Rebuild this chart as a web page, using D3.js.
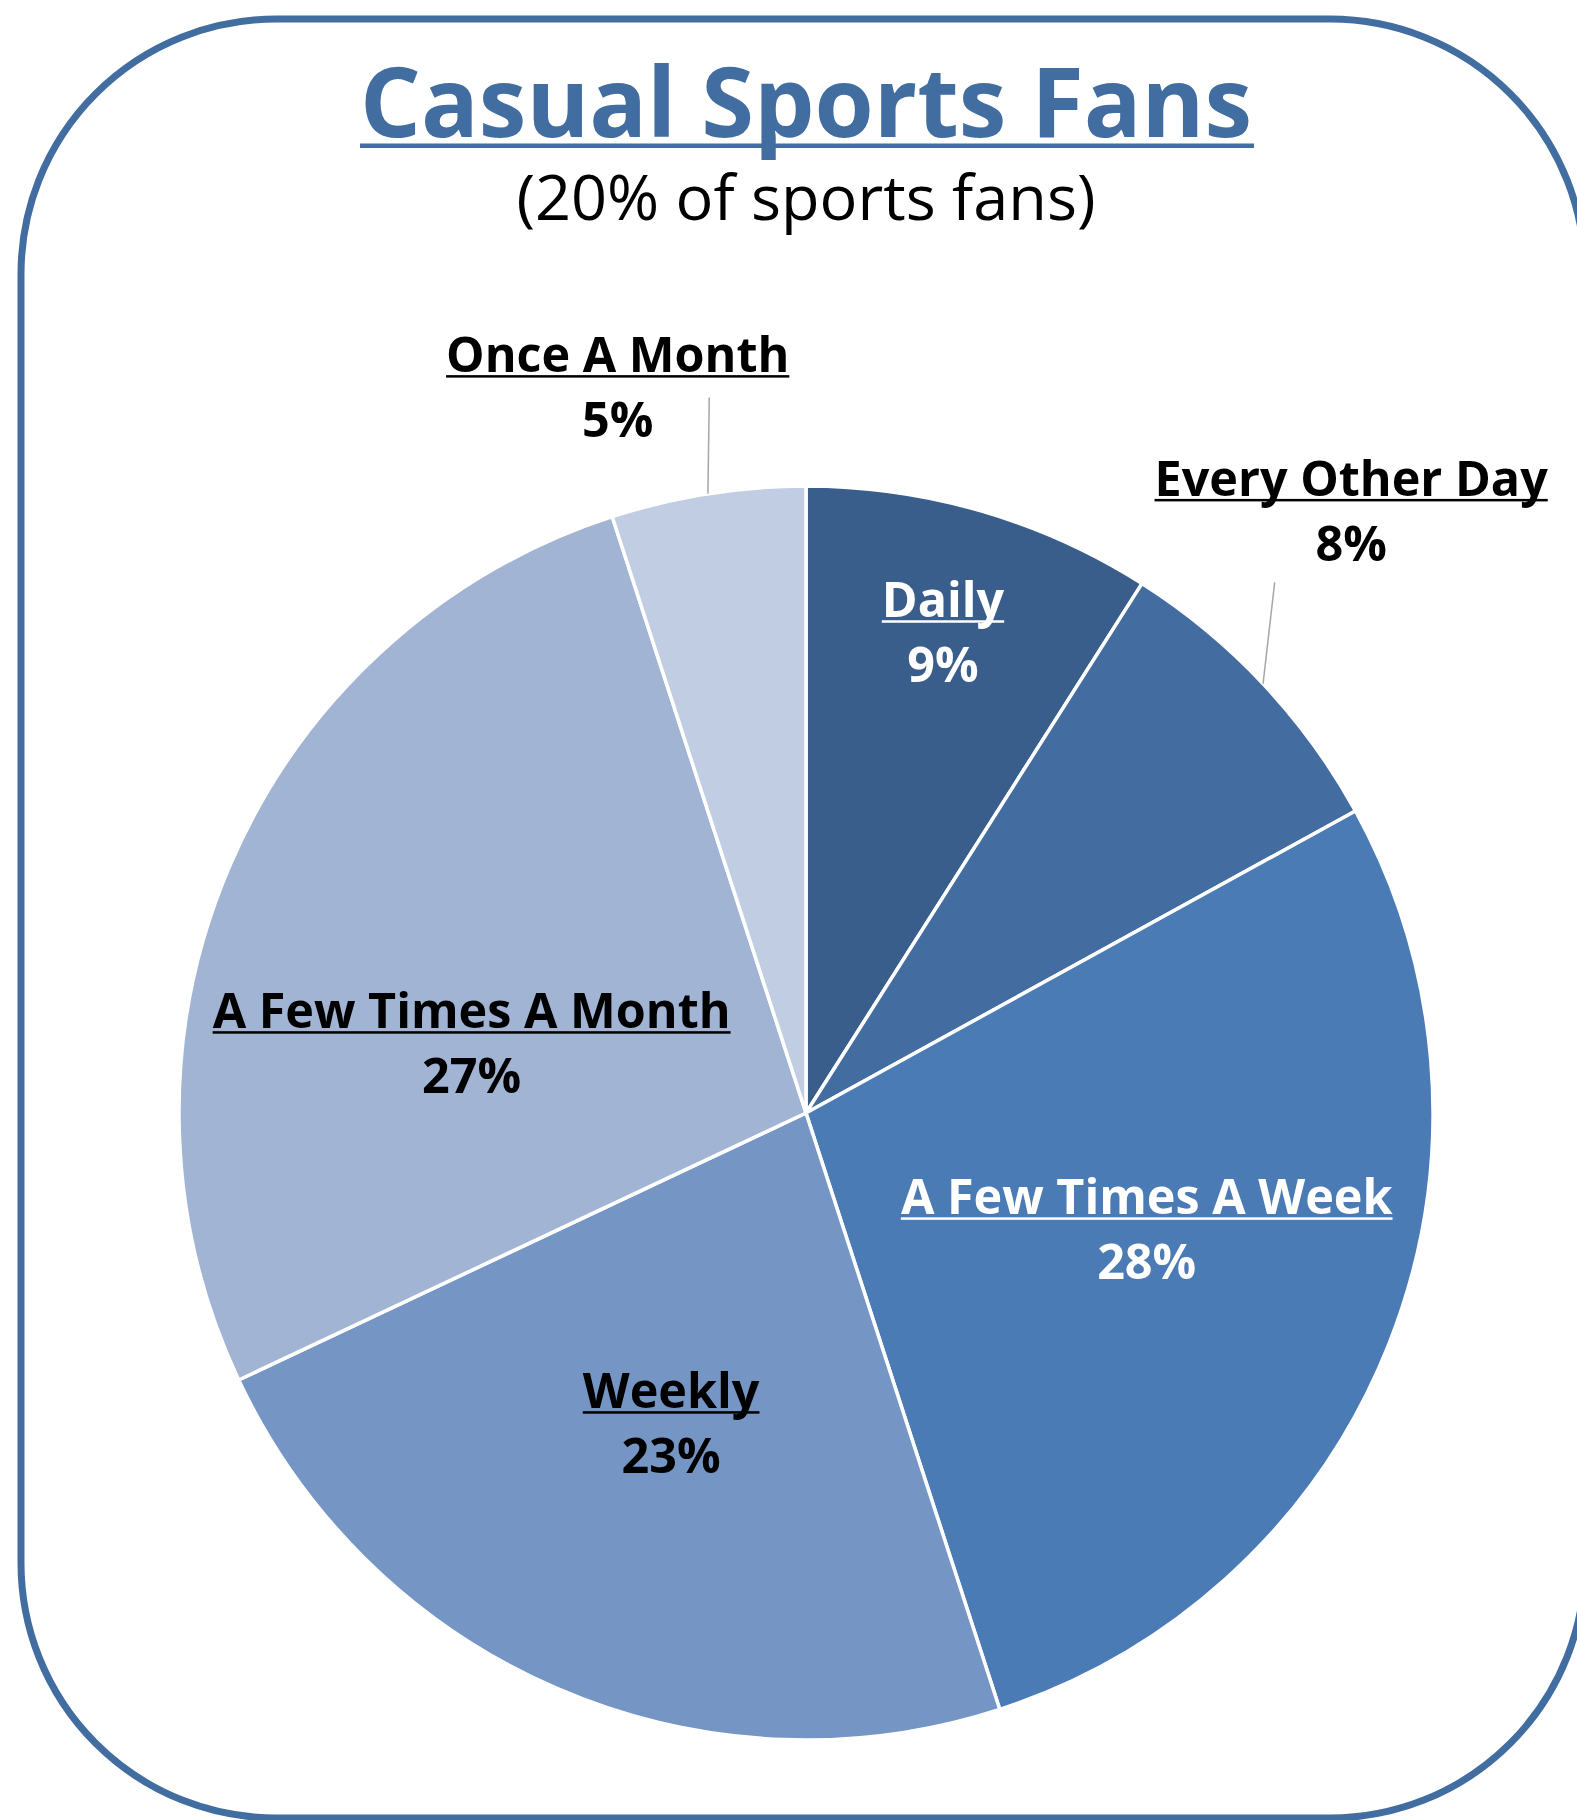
<!DOCTYPE html>
<html>
<head>
<meta charset="utf-8">
<script src="https://cdn.jsdelivr.net/npm/d3@7"></script>
<style>
  html, body { margin: 0; padding: 0; background: #ffffff; }
  svg { display: block; }
  text { font-family: "Open Sans", "Noto Sans", sans-serif; }
</style>
</head>
<body>
<svg id="chart" width="1577" height="1820"></svg>
<script>
// ---- data ----
const categories = ["Daily", "Every Other Day", "A Few Times A Week", "Weekly", "A Few Times A Month", "Once A Month"];
const values = [9, 8, 28, 23, 27, 5];
const valueLabels = ["9%", "8%", "28%", "23%", "27%", "5%"];
const titleText = "Casual Sports Fans";
const subtitleText = "(20% of sports fans)";

// ---- styles / layout (not data) ----
const colors = ["#3A5E8B", "#436CA0", "#4A7BB5", "#7595C5", "#A1B4D4", "#C1CDE2"];
const labelColors = ["#ffffff", "#000000", "#ffffff", "#000000", "#000000", "#000000"];
// label block centre, polar relative to pie centre: [angle in degrees, radius]
const labelPolar = [[16.0, 497], [42.3, 810], [109.3, 361], [203.3, 341], [281.3, 341], [345.4, 747]];
const hasLeader = [false, true, false, false, false, true];
// leader start points in polar: [angle, radius]
const leaderStart = [null, [41.45, 708], null, null, null, [352.3, 722]];

const W = 1577, H = 1820;
const cx = 806, cy = 1113, R = 627;

const svg = d3.select("#chart");

// frame
svg.append("rect")
  .attr("x", 21).attr("y", 19)
  .attr("width", 1564).attr("height", 1799)
  .attr("rx", 255).attr("ry", 255)
  .attr("fill", "none")
  .attr("stroke", "#426DA1")
  .attr("stroke-width", 7);

// title
const title = svg.append("text")
  .attr("x", cx).attr("y", 137)
  .attr("text-anchor", "middle")
  .attr("font-size", 96)
  .attr("font-weight", 700)
  .attr("fill", "#426DA1")
  .attr("textLength", 892)
  .attr("lengthAdjust", "spacingAndGlyphs")
  .text(titleText);
svg.append("rect")
  .attr("x", cx - 446).attr("y", 143.5)
  .attr("width", 894).attr("height", 4.5)
  .attr("fill", "#426DA1");

svg.append("text")
  .attr("x", cx).attr("y", 220)
  .attr("text-anchor", "middle")
  .attr("font-size", 63)
  .attr("font-weight", 400)
  .attr("fill", "#000000")
  .text(subtitleText);

// pie
const pie = d3.pie().sort(null).value(d => d)
  .startAngle(0).endAngle(2 * Math.PI);
const arcs = pie(values);
const arc = d3.arc().innerRadius(0).outerRadius(R);

const g = svg.append("g").attr("transform", `translate(${cx},${cy})`);
g.selectAll("path.slice")
  .data(arcs)
  .join("path")
  .attr("class", "slice")
  .attr("d", arc)
  .attr("fill", (d, i) => colors[i])
  .attr("stroke", "#ffffff")
  .attr("stroke-width", 3.5)
  .attr("stroke-linejoin", "round");

function polar(angleDeg, r) {
  const a = angleDeg * Math.PI / 180;
  return [r * Math.sin(a), -r * Math.cos(a)];
}

// leader lines
arcs.forEach((d, i) => {
  if (!hasLeader[i]) return;
  const mid = (d.startAngle + d.endAngle) / 2;
  const end = [R * Math.sin(mid), -R * Math.cos(mid)];
  const st = polar(leaderStart[i][0], leaderStart[i][1]);
  g.append("line")
    .attr("x1", st[0]).attr("y1", st[1])
    .attr("x2", end[0]).attr("y2", end[1])
    .attr("stroke", "#A6A6A6")
    .attr("stroke-width", 1.5);
});

// labels
arcs.forEach((d, i) => {
  const p = polar(labelPolar[i][0], labelPolar[i][1]);
  const lx = p[0], base1 = p[1] - 18, base2 = base1 + 65;
  const t1 = g.append("text")
    .attr("x", lx).attr("y", base1)
    .attr("text-anchor", "middle")
    .attr("font-size", 48.5)
    .attr("font-weight", 700)
    .attr("fill", labelColors[i])
    .text(categories[i]);
  const w = t1.node().getComputedTextLength();
  g.append("rect")
    .attr("x", lx - w / 2).attr("y", base1 + 3)
    .attr("width", w).attr("height", 2.5)
    .attr("fill", labelColors[i]);
  g.append("text")
    .attr("x", lx).attr("y", base2)
    .attr("text-anchor", "middle")
    .attr("font-size", 48.5)
    .attr("font-weight", 700)
    .attr("fill", labelColors[i])
    .text(valueLabels[i]);
});
</script>
</body>
</html>
